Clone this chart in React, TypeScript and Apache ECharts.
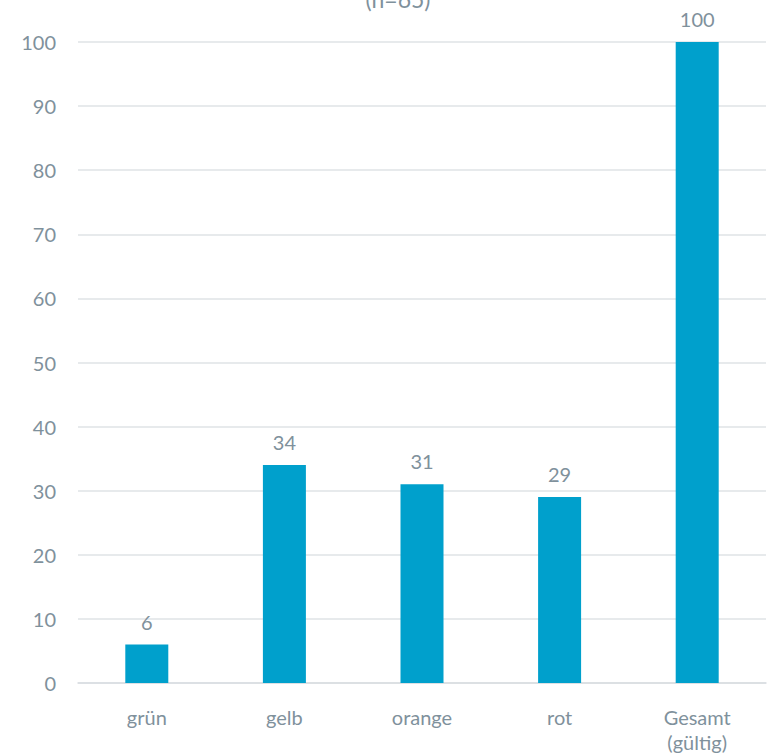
import React, { useEffect, useRef } from "react";
import * as echarts from "echarts";

const categories = ["grün", "gelb", "orange", "rot", "Gesamt\n(gültig)"];
const values = [6, 34, 31, 29, 100];
const yTicks = [0, 10, 20, 30, 40, 50, 60, 70, 80, 90, 100];
const titleText = "(n=65)";

const TEXT = "#7f919c";
const BAR = "#00a0cc";
const FONT = "Lato, 'Open Sans', sans-serif";
const SIZE = 20;

export default function App() {
  const ref = useRef<HTMLDivElement>(null);

  useEffect(() => {
    if (!ref.current) return;
    const chart = echarts.init(ref.current, undefined, { renderer: "svg" });
    chart.setOption({
      animation: false,
      textStyle: { fontFamily: FONT },
      graphic: [
        {
          type: "text",
          x: 398,
          y: -13,
          style: {
            text: titleText,
            fill: TEXT,
            font: `23px ${FONT}`,
            textAlign: "center",
            textVerticalAlign: "top",
          },
        },
      ],
      grid: { left: 78, right: 7, top: 42, bottom: 72 },
      xAxis: {
        type: "category",
        data: categories,
        axisTick: { show: false },
        axisLine: { lineStyle: { color: "#d9dde1", width: 1.5 } },
        axisLabel: {
          color: TEXT,
          fontSize: SIZE,
          fontFamily: FONT,
          margin: 21,
          lineHeight: 25,
          interval: 0,
        },
      },
      yAxis: {
        type: "value",
        min: yTicks[0],
        max: yTicks[yTicks.length - 1],
        interval: 10,
        axisLabel: { color: TEXT, fontSize: SIZE, fontFamily: FONT, margin: 22 },
        splitLine: { lineStyle: { color: "#dfe3e6", width: 1.5 } },
        axisLine: { show: false },
        axisTick: { show: false },
      },
      series: [
        {
          type: "bar",
          data: values,
          barWidth: 43,
          itemStyle: { color: BAR },
          label: {
            show: true,
            position: "top",
            distance: 13,
            color: TEXT,
            fontSize: SIZE,
            fontFamily: FONT,
          },
        },
      ],
    });
    return () => chart.dispose();
  }, []);

  return (
    <div
      ref={ref}
      style={{ position: "absolute", left: 0, top: 0, width: 773, height: 755 }}
    />
  );
}
